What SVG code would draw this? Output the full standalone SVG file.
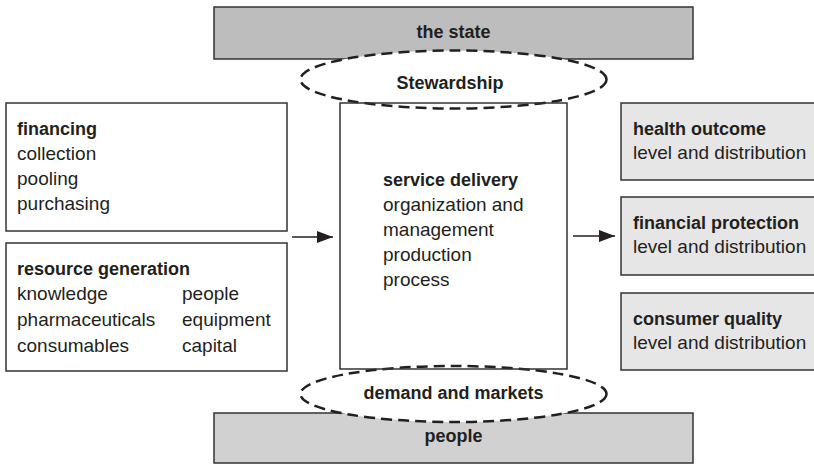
<svg xmlns="http://www.w3.org/2000/svg" width="814" height="465" viewBox="0 0 814 465">
<style>
text{font-family:"Liberation Sans",Arial,sans-serif;fill:#231f20;font-size:19px}
.b{font-weight:bold;font-size:18px}
.box{fill:#fff;stroke:#333;stroke-width:1.5}
.frame{fill:none;stroke:#333;stroke-width:1.5}
.gbox{fill:#e6e6e6;stroke:#333;stroke-width:1.5}
.bar1{fill:#bdbdbd;stroke:#333;stroke-width:1.5}
.bar2{fill:#d1d1d1;stroke:#333;stroke-width:1.5}
.ell{fill:#fff;stroke:#231f20;stroke-width:2.5;stroke-dasharray:11 6}
.arr{stroke:#231f20;stroke-width:1.5;fill:none}
</style>
<defs>
<marker id="ah" viewBox="0 0 16 12" refX="16" refY="6" markerWidth="16" markerHeight="12" markerUnits="userSpaceOnUse" orient="auto">
<path d="M0,0 L16,6 L0,12 Z" fill="#231f20"/>
</marker>
</defs>
<g id="state">
<rect class="bar1" x="214" y="7" width="479" height="52"/>
<text class="b" x="453.5" y="38" text-anchor="middle">the state</text>
</g>
<g id="people">
<rect class="bar2" x="214" y="413" width="479" height="50"/>
<text class="b" x="453.5" y="442" text-anchor="middle">people</text>
</g>
<g id="stewardship">
<ellipse class="ell" cx="453.5" cy="79.5" rx="153" ry="29"/>
<text class="b" x="450" y="89" text-anchor="middle">Stewardship</text>
</g>
<g id="demand">
<ellipse class="ell" cx="453.5" cy="394" rx="153" ry="28"/>
<text class="b" x="453.5" y="399" text-anchor="middle">demand and markets</text>
</g>
<g id="service">
<rect class="frame" x="340" y="103" width="227" height="266"/>
<text class="b" x="383" y="186">service delivery</text>
<text x="383" y="211">organization and</text>
<text x="383" y="236">management</text>
<text x="383" y="261">production</text>
<text x="383" y="286">process</text>
</g>
<g id="financing">
<rect class="box" x="6" y="103" width="281" height="128"/>
<text class="b" x="17" y="135">financing</text>
<text x="17" y="160">collection</text>
<text x="17" y="185">pooling</text>
<text x="17" y="210">purchasing</text>
</g>
<g id="resource">
<rect class="box" x="6" y="243" width="281" height="128"/>
<text class="b" x="17" y="275">resource generation</text>
<text x="17" y="300">knowledge</text>
<text x="182" y="300">people</text>
<text x="17" y="326">pharmaceuticals</text>
<text x="182" y="326">equipment</text>
<text x="17" y="352">consumables</text>
<text x="182" y="352">capital</text>
</g>
<g id="health">
<rect class="gbox" x="621" y="103" width="200" height="77"/>
<text class="b" x="633" y="135">health outcome</text>
<text x="633" y="159">level and distribution</text>
</g>
<g id="protection">
<rect class="gbox" x="621" y="197" width="200" height="78"/>
<text class="b" x="633" y="229">financial protection</text>
<text x="633" y="253">level and distribution</text>
</g>
<g id="quality">
<rect class="gbox" x="621" y="293" width="200" height="77"/>
<text class="b" x="633" y="325">consumer quality</text>
<text x="633" y="349">level and distribution</text>
</g>
<g id="connectors">
<line class="arr" x1="292" y1="237" x2="333" y2="237" marker-end="url(#ah)"/>
<line class="arr" x1="573" y1="236" x2="615" y2="236" marker-end="url(#ah)"/>
</g>
</svg>
